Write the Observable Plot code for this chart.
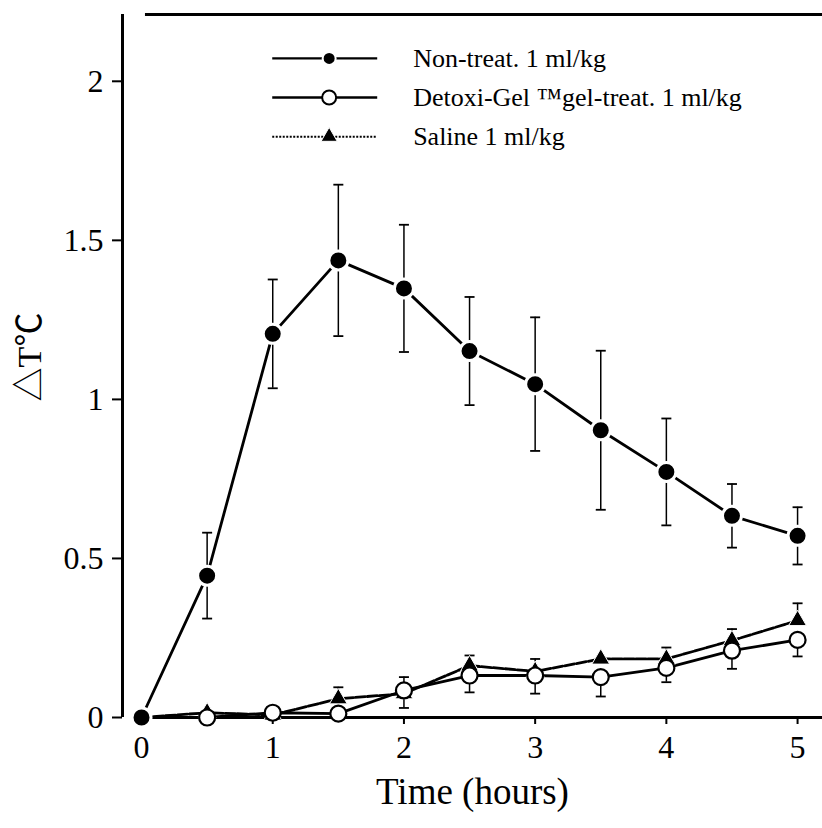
<!DOCTYPE html>
<html><head><meta charset="utf-8">
<script src="https://cdn.jsdelivr.net/npm/d3@7"></script>
<script src="https://cdn.jsdelivr.net/npm/@observablehq/plot@0.6"></script>
<style>body{margin:0;background:#fff} svg{display:block}</style>
</head><body><div id="chart"></div>
<script>
const hours = [0, 0.5, 1, 1.5, 2, 2.5, 3, 3.5, 4, 4.5, 5];
const xTicks = [0, 1, 2, 3, 4, 5];
const yTicks = [0, 0.5, 1, 1.5, 2];
const nonTreat   = [0, 0.446, 1.206, 1.437, 1.349, 1.152, 1.048, 0.903, 0.772, 0.634, 0.571];
const nonTreatSE = [0, 0.135, 0.171, 0.238, 0.200, 0.170, 0.210, 0.250, 0.168, 0.100, 0.090];
const detoxi     = [0, 0.000, 0.015, 0.012, 0.085, 0.132, 0.132, 0.127, 0.156, 0.210, 0.244];
const detoxiSE   = [0, 0, 0, 0, 0.055, 0.053, 0.057, 0.061, 0.045, 0.057, 0.052];
const saline     = [0, 0.015, 0.008, 0.059, 0.075, 0.163, 0.145, 0.184, 0.184, 0.242, 0.305];
const salineSE   = [0, 0, 0, 0.036, 0.052, 0.032, 0.039, 0, 0.036, 0.036, 0.054];
const seriesNames = ["Non-treat. 1 ml/kg", "Detoxi-Gel \u2122gel-treat. 1 ml/kg", "Saline 1 ml/kg"];
const xLabel = "Time (hours)";
const yLabel = "\u25B3T\u2103";

const rows = (vals, se) => hours.map((t, i) => ({t, v: vals[i], e: se[i]}));
const nt = rows(nonTreat, nonTreatSE);
const dg = rows(detoxi, detoxiSE);
const sa = rows(saline, salineSE);
const withErr = a => a.filter(d => d.e > 0);

const xDomain = [-0.145, 5.19];
const yDomain = [0, 2.21];

const cap = {draw(ctx, size) { const r = Math.sqrt(size / Math.PI); ctx.moveTo(-r, 0); ctx.lineTo(r, 0); }};

// legend layout (computed, in data units)
const leg = seriesNames.map((name, i) => ({name, i, y: 2.072 - 0.123 * i}));
const lx1 = 1.0, lx2 = 1.8, lxm = 1.43, ltx = 2.07;

const font = "'Liberation Serif', 'Times New Roman', serif";
const cjk = "'Liberation Serif', 'Noto Sans CJK JP', serif";

const chart = Plot.plot({
  width: 822,
  height: 828,
  marginLeft: 122,
  marginRight: 0,
  marginTop: 14,
  marginBottom: 111,
  x: {domain: xDomain},
  y: {domain: yDomain},
  style: {fontFamily: font, color: "black", background: "white"},
  marks: [
    // axes frame lines
    Plot.ruleX([xDomain[0]], {y1: 0, y2: yDomain[1], strokeWidth: 3}),
    Plot.ruleY([0], {x1: 0, x2: xDomain[1], strokeWidth: 3}),
    Plot.ruleY([yDomain[1]], {x1: 0.03, x2: xDomain[1], strokeWidth: 3}),
    Plot.axisY({ticks: yTicks, tickSize: 10, tickPadding: 9, fontSize: 32, fontFamily: font, fontVariant: "normal", strokeWidth: 2, tickFormat: d => String(d), label: null}),
    Plot.axisX({ticks: xTicks, tickSize: 7, tickPadding: 11, fontSize: 32, fontFamily: font, fontVariant: "normal", strokeWidth: 2, tickFormat: d => String(d), label: null}),
    Plot.text([xLabel], {text: d => d, frameAnchor: "bottom", dy: 86, fontSize: 37, fontFamily: font}),
    Plot.text([yLabel], {text: d => d, frameAnchor: "left", textAnchor: "middle", dx: -92, dy: -9, rotate: -90, fontSize: 34, fontFamily: cjk}),

    // error bars
    Plot.ruleX(withErr(nt), {x: "t", y1: d => d.v - d.e, y2: d => d.v + d.e, strokeWidth: 1.5}),
    Plot.dot(withErr(nt), {x: "t", y: d => d.v + d.e, symbol: cap, r: 5, stroke: "black", strokeWidth: 1.8}),
    Plot.dot(withErr(nt), {x: "t", y: d => d.v - d.e, symbol: cap, r: 5, stroke: "black", strokeWidth: 1.8}),
    Plot.ruleX(withErr(sa), {x: "t", y1: "v", y2: d => d.v + d.e, strokeWidth: 1.5}),
    Plot.dot(withErr(sa), {x: "t", y: d => d.v + d.e, symbol: cap, r: 5, stroke: "black", strokeWidth: 1.8}),
    Plot.ruleX(withErr(dg), {x: "t", y1: d => d.v - d.e, y2: "v", strokeWidth: 1.5}),
    Plot.dot(withErr(dg), {x: "t", y: d => d.v - d.e, symbol: cap, r: 5, stroke: "black", strokeWidth: 1.8}),

    // lines
    Plot.line(sa, {x: "t", y: "v", strokeWidth: 2.8, strokeDasharray: "10,2"}),
    Plot.line(dg, {x: "t", y: "v", strokeWidth: 2.8}),
    Plot.line(nt, {x: "t", y: "v", strokeWidth: 2.8}),

    // markers
    Plot.dot(sa.slice(1), {x: "t", y: "v", symbol: "triangle", r: 6.6, fill: "black", stroke: "white", strokeWidth: 1}),
    Plot.dot(dg.slice(1), {x: "t", y: "v", r: 8, fill: "white", stroke: "black", strokeWidth: 2.2}),
    Plot.dot(nt, {x: "t", y: "v", r: 9.5, fill: "black", stroke: "white", strokeWidth: 3}),

    // legend
    Plot.ruleY([leg[0]], {y: "y", x1: lx1, x2: lx2, strokeWidth: 2.4}),
    Plot.ruleY([leg[1]], {y: "y", x1: lx1, x2: lx2, strokeWidth: 2.4}),
    Plot.ruleY([leg[2]], {y: "y", x1: lx1, x2: lx2, strokeWidth: 2, strokeDasharray: "2,1.5"}),
    Plot.dot([leg[0]], {x: () => lxm, y: "y", r: 6.5, fill: "black", stroke: "white", strokeWidth: 2}),
    Plot.dot([leg[1]], {x: () => lxm, y: "y", r: 7, fill: "white", stroke: "black", strokeWidth: 2}),
    Plot.dot([leg[2]], {x: () => lxm, y: "y", symbol: "triangle", r: 6, fill: "black", stroke: "white", strokeWidth: 1}),
    Plot.text(leg, {x: () => ltx, y: "y", text: "name", textAnchor: "start", fontSize: 26, fontFamily: font})
  ]
});
document.getElementById("chart").appendChild(chart);
</script>
</body></html>
